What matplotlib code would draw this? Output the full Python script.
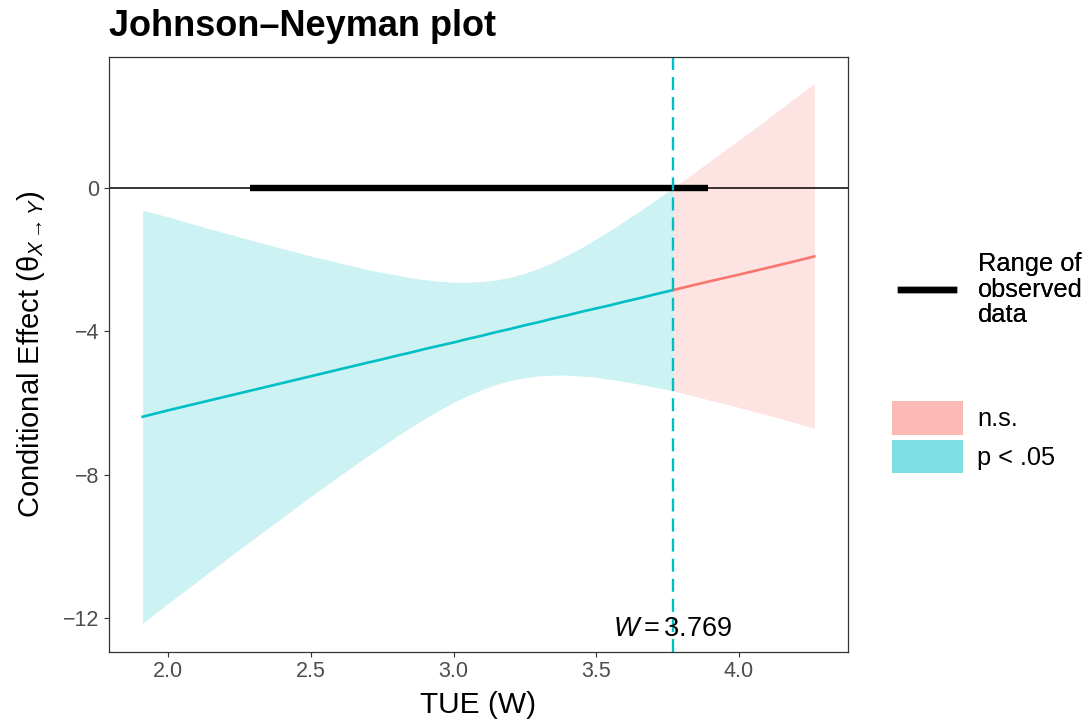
import matplotlib.pyplot as plt
from matplotlib.lines import Line2D
from matplotlib.patches import Patch

plt.rcParams['font.family'] = ['Liberation Sans', 'DejaVu Sans']
plt.rcParams['mathtext.fontset'] = 'custom'
plt.rcParams['mathtext.rm'] = 'Liberation Sans'
plt.rcParams['mathtext.it'] = 'Liberation Sans:italic'

# significant part (p < .05)
w_sig = [1.91, 2.0, 2.1, 2.2, 2.3, 2.4, 2.5, 2.6, 2.7, 2.75, 2.8, 2.85, 2.9, 2.95, 3.0, 3.05, 3.1, 3.15, 3.2,
         3.25, 3.3, 3.35, 3.4, 3.45, 3.5, 3.55, 3.6, 3.65, 3.7, 3.769]
eff_sig = [-6.38, -6.20, -6.01, -5.82, -5.63, -5.44, -5.25, -5.06, -4.87, -4.78, -4.68, -4.59, -4.49, -4.40, -4.31,
           -4.21, -4.12, -4.02, -3.93, -3.83, -3.74, -3.64, -3.55, -3.45, -3.36, -3.27, -3.17, -3.08, -2.98, -2.85]
hi_sig = [-0.62, -0.81, -1.04, -1.26, -1.48, -1.69, -1.90, -2.09, -2.28, -2.36, -2.43, -2.50, -2.56, -2.60, -2.63,
          -2.63, -2.61, -2.57, -2.49, -2.38, -2.24, -2.07, -1.87, -1.66, -1.42, -1.18, -0.92, -0.66, -0.39, 0.0]
lo_sig = [-12.13, -11.58, -10.98, -10.37, -9.78, -9.19, -8.60, -8.03, -7.47, -7.20, -6.93, -6.68, -6.43, -6.20, -5.98,
          -5.79, -5.62, -5.48, -5.37, -5.29, -5.24, -5.22, -5.22, -5.25, -5.28, -5.34, -5.40, -5.47, -5.55, -5.65]

# non significant part
w_ns = [3.769, 3.8, 3.9, 4.0, 4.1, 4.2, 4.265]
eff_ns = [-2.85, -2.79, -2.60, -2.42, -2.23, -2.04, -1.91]
hi_ns = [0.0, 0.17, 0.75, 1.33, 1.92, 2.52, 2.91]
lo_ns = [-5.65, -5.72, -5.92, -6.12, -6.33, -6.55, -6.71]

jn_point = 3.769
obs_range = [2.286, 3.891]
xticks = [2.0, 2.5, 3.0, 3.5, 4.0]
yticks = [0, -4, -8, -12]

red = '#F8766D'
teal = '#00BFC4'

fig = plt.figure(figsize=(10.88, 7.24), dpi=100)
ax = fig.add_axes([0.1002, 0.0994, 0.6792, 0.8219])

ax.fill_between(w_sig, lo_sig, hi_sig, color=teal, alpha=0.2, linewidth=0)
ax.fill_between(w_ns, lo_ns, hi_ns, color=red, alpha=0.2, linewidth=0)
ax.plot(w_sig, eff_sig, color=teal, lw=1.9)
ax.plot(w_ns, eff_ns, color=red, lw=1.9)

ax.axhline(0, color='black', lw=1.1)
ax.plot(obs_range, [0, 0], color='black', lw=4.6, solid_capstyle='butt')
ax.axvline(jn_point, color=teal, lw=1.7, ls=(0, (5.5, 3)))

ax.text(jn_point, -12.3, r'$W = 3.769$', ha='center', va='center', fontsize=19.5)

ax.set_xlim(1.792, 4.383)
ax.set_ylim(-12.94, 3.65)
ax.set_xticks(xticks)
ax.set_yticks(yticks)
ax.tick_params(colors='#333333', labelcolor='#4D4D4D', labelsize=15.5, length=3.3, width=0.8)
for s in ax.spines.values():
    s.set_color('#333333')
    s.set_linewidth(0.9)

ax.set_xlabel('TUE (W)', fontsize=21.5, labelpad=6)
ax.set_ylabel('Conditional Effect (\u03b8$_{X\\rightarrow Y}$)', fontsize=21, labelpad=12)
ax.set_title('Johnson\u2013Neyman plot', loc='left', fontsize=26, fontweight='bold', pad=15)

leg1 = fig.legend(handles=[Line2D([], [], color='black', lw=4.6)],
                  labels=['Range of\nobserved\ndata'],
                  loc='center left', bbox_to_anchor=(0.8281, 0.6), frameon=False,
                  fontsize=18.3, handlelength=2.07, handletextpad=0.96, borderpad=0, borderaxespad=0)
leg1.get_texts()[0].set_linespacing(1.1)
fig.add_artist(leg1)
fig.legend(handles=[Patch(facecolor=red, alpha=0.5, lw=0), Patch(facecolor=teal, alpha=0.5, lw=0)],
           labels=['n.s.', 'p < .05'],
           loc='upper left', bbox_to_anchor=(0.8199, 0.4461), frameon=False,
           fontsize=18.3, handlelength=2.8, handleheight=1.66, handletextpad=0.56,
           labelspacing=0.2, borderpad=0, borderaxespad=0)

fig.savefig('out.png', dpi=100)
